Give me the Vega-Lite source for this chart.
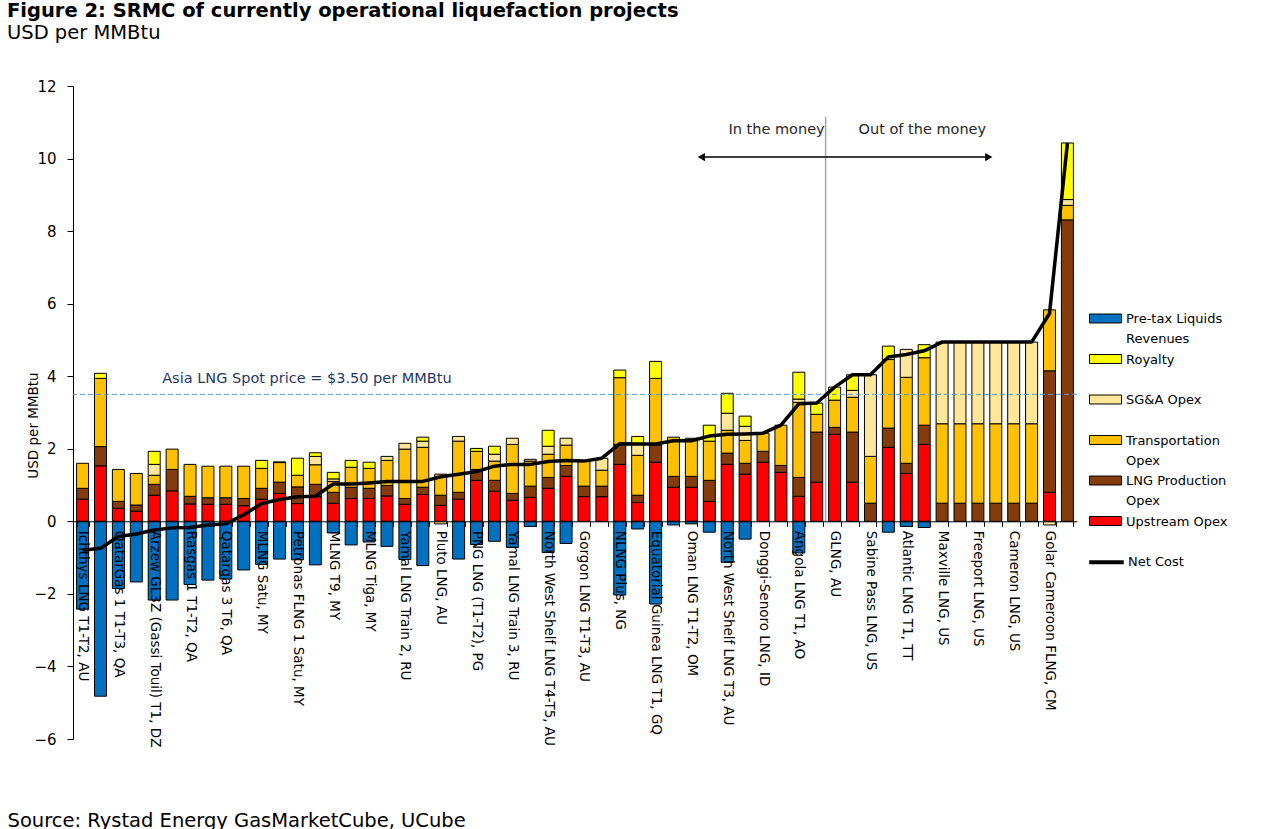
{
  "$schema": "https://vega.github.io/schema/vega-lite/v6.json",
  "width": 1004,
  "height": 653,
  "padding": {"left": 7, "top": 1, "right": 0, "bottom": 0},
  "background": "white",
  "config": {"view": {"stroke": null}, "font": "DejaVu Sans"},
  "title": {
    "text": "Figure 2: SRMC of currently operational liquefaction projects",
    "subtitle": "USD per MMBtu",
    "anchor": "start",
    "frame": "bounds",
    "font": "DejaVu Sans",
    "fontSize": 19.5,
    "fontWeight": "bold",
    "color": "black",
    "subtitleFont": "DejaVu Sans",
    "subtitleFontSize": 19.5,
    "subtitleColor": "black",
    "subtitlePadding": 2,
    "offset": 36
  },
  "datasets": {
    "ranks": [
      {"comp": "up", "rank": 1},
      {"comp": "prod", "rank": 2},
      {"comp": "trans", "rank": 3},
      {"comp": "sga", "rank": 4},
      {"comp": "roy", "rank": 5},
      {"comp": "liq", "rank": 6}
    ]
  },
  "data": {
    "values": [
      {"p": "Ichthys LNG T1-T2, AU", "up": 0.61, "prod": 0.30, "trans": 0.69, "sga": 0, "roy": 0, "liq": -2.42, "net": -0.80},
      {"p": "(unlabelled 1)", "up": 1.53, "prod": 0.53, "trans": 1.88, "sga": 0, "roy": 0.14, "liq": -4.82, "net": -0.74},
      {"p": "QatarGas 1 T1-T3, QA", "up": 0.36, "prod": 0.19, "trans": 0.88, "sga": 0, "roy": 0, "liq": -1.85, "net": -0.42},
      {"p": "(unlabelled 3)", "up": 0.28, "prod": 0.17, "trans": 0.87, "sga": 0, "roy": 0, "liq": -1.67, "net": -0.35},
      {"p": "Arzew GL3Z (Gassi Touil) T1, DZ", "up": 0.72, "prod": 0.30, "trans": 0.25, "sga": 0.30, "roy": 0.36, "liq": -2.17, "net": -0.24},
      {"p": "(unlabelled 5)", "up": 0.84, "prod": 0.59, "trans": 0.56, "sga": 0, "roy": 0, "liq": -2.17, "net": -0.18},
      {"p": "Rasgas 1 T1-T2, QA", "up": 0.48, "prod": 0.21, "trans": 0.88, "sga": 0, "roy": 0, "liq": -1.74, "net": -0.17},
      {"p": "(unlabelled 7)", "up": 0.47, "prod": 0.18, "trans": 0.87, "sga": 0, "roy": 0, "liq": -1.62, "net": -0.10},
      {"p": "Qatargas 3 T6, QA", "up": 0.47, "prod": 0.18, "trans": 0.87, "sga": 0, "roy": 0, "liq": -1.59, "net": -0.07},
      {"p": "(unlabelled 9)", "up": 0.43, "prod": 0.20, "trans": 0.89, "sga": 0, "roy": 0, "liq": -1.34, "net": 0.18},
      {"p": "MLNG Satu, MY", "up": 0.61, "prod": 0.30, "trans": 0.55, "sga": 0, "roy": 0.22, "liq": -1.19, "net": 0.49},
      {"p": "(unlabelled 11)", "up": 0.77, "prod": 0.31, "trans": 0.54, "sga": 0, "roy": 0.02, "liq": -1.04, "net": 0.60},
      {"p": "Petronas FLNG 1 Satu, MY", "up": 0.49, "prod": 0.46, "trans": 0.32, "sga": 0, "roy": 0.47, "liq": -1.06, "net": 0.68},
      {"p": "(unlabelled 13)", "up": 0.68, "prod": 0.34, "trans": 0.54, "sga": 0.23, "roy": 0.10, "liq": -1.20, "net": 0.69},
      {"p": "MLNG T9, MY", "up": 0.50, "prod": 0.30, "trans": 0.30, "sga": 0.07, "roy": 0.18, "liq": -0.32, "net": 1.03},
      {"p": "(unlabelled 15)", "up": 0.63, "prod": 0.31, "trans": 0.55, "sga": 0, "roy": 0.19, "liq": -0.65, "net": 1.03},
      {"p": "MLNG Tiga, MY", "up": 0.63, "prod": 0.28, "trans": 0.55, "sga": 0, "roy": 0.17, "liq": -0.57, "net": 1.06},
      {"p": "(unlabelled 17)", "up": 0.70, "prod": 0.29, "trans": 0.69, "sga": 0.11, "roy": 0, "liq": -0.69, "net": 1.10},
      {"p": "Yamal LNG Train 2, RU", "up": 0.47, "prod": 0.16, "trans": 1.36, "sga": 0.16, "roy": 0, "liq": -1.05, "net": 1.10},
      {"p": "(unlabelled 19)", "up": 0.74, "prod": 0.20, "trans": 1.10, "sga": 0.17, "roy": 0.11, "liq": -1.22, "net": 1.10},
      {"p": "Pluto LNG, AU", "up": 0.44, "prod": 0.28, "trans": 0.58, "sga": -0.07, "roy": 0, "liq": 0, "net": 1.23},
      {"p": "(unlabelled 21)", "up": 0.61, "prod": 0.19, "trans": 1.41, "sga": 0.13, "roy": 0, "liq": -1.04, "net": 1.30},
      {"p": "PNG LNG (T1-T2), PG", "up": 1.13, "prod": 0.30, "trans": 0.50, "sga": 0, "roy": 0.08, "liq": -0.64, "net": 1.37},
      {"p": "(unlabelled 23)", "up": 0.83, "prod": 0.30, "trans": 0.53, "sga": 0.19, "roy": 0.22, "liq": -0.55, "net": 1.52},
      {"p": "Yamal LNG Train 3, RU", "up": 0.58, "prod": 0.19, "trans": 1.35, "sga": 0.17, "roy": 0, "liq": -0.72, "net": 1.57},
      {"p": "(unlabelled 25)", "up": 0.66, "prod": 0.31, "trans": 0.69, "sga": 0.05, "roy": 0, "liq": -0.14, "net": 1.57},
      {"p": "North West Shelf LNG T4-T5, AU", "up": 0.91, "prod": 0.30, "trans": 0.64, "sga": 0.22, "roy": 0.44, "liq": -0.86, "net": 1.65},
      {"p": "(unlabelled 27)", "up": 1.24, "prod": 0.30, "trans": 0.56, "sga": 0.19, "roy": 0, "liq": -0.61, "net": 1.68},
      {"p": "Gorgon LNG T1-T3, AU", "up": 0.68, "prod": 0.29, "trans": 0.69, "sga": 0, "roy": 0, "liq": 0, "net": 1.66},
      {"p": "(unlabelled 29)", "up": 0.68, "prod": 0.29, "trans": 0.44, "sga": 0.33, "roy": 0, "liq": 0, "net": 1.74},
      {"p": "NLNG Plus, NG", "up": 1.57, "prod": 0.55, "trans": 1.84, "sga": 0, "roy": 0.21, "liq": -2.03, "net": 2.14},
      {"p": "(unlabelled 31)", "up": 0.52, "prod": 0.20, "trans": 1.10, "sga": 0.30, "roy": 0.22, "liq": -0.21, "net": 2.13},
      {"p": "Equatorial Guinea LNG T1, GQ", "up": 1.63, "prod": 0.47, "trans": 1.84, "sga": 0, "roy": 0.47, "liq": -2.28, "net": 2.13},
      {"p": "(unlabelled 33)", "up": 0.94, "prod": 0.30, "trans": 1.08, "sga": 0, "roy": 0, "liq": -0.10, "net": 2.22},
      {"p": "Oman LNG T1-T2, OM", "up": 0.94, "prod": 0.30, "trans": 1.05, "sga": 0, "roy": 0, "liq": -0.07, "net": 2.22},
      {"p": "(unlabelled 35)", "up": 0.55, "prod": 0.58, "trans": 1.08, "sga": 0, "roy": 0.44, "liq": -0.30, "net": 2.35},
      {"p": "North West Shelf LNG T3, AU", "up": 1.57, "prod": 0.31, "trans": 0.63, "sga": 0.47, "roy": 0.55, "liq": -1.13, "net": 2.40},
      {"p": "(unlabelled 37)", "up": 1.30, "prod": 0.30, "trans": 0.63, "sga": 0.39, "roy": 0.28, "liq": -0.49, "net": 2.41},
      {"p": "Donggi-Senoro LNG, ID", "up": 1.63, "prod": 0.30, "trans": 0.50, "sga": 0, "roy": 0, "liq": 0, "net": 2.43},
      {"p": "(unlabelled 39)", "up": 1.35, "prod": 0.19, "trans": 1.11, "sga": 0, "roy": 0, "liq": 0, "net": 2.65},
      {"p": "Angola LNG T1, AO", "up": 0.69, "prod": 0.52, "trans": 2.07, "sga": 0.09, "roy": 0.74, "liq": -0.87, "net": 3.24},
      {"p": "(unlabelled 41)", "up": 1.08, "prod": 1.38, "trans": 0.49, "sga": 0, "roy": 0.31, "liq": 0, "net": 3.26},
      {"p": "GLNG, AU", "up": 2.40, "prod": 0.19, "trans": 0.75, "sga": 0, "roy": 0.36, "liq": 0, "net": 3.70},
      {"p": "(unlabelled 43)", "up": 1.08, "prod": 1.38, "trans": 0.96, "sga": 0.19, "roy": 0.43, "liq": 0, "net": 4.04},
      {"p": "Sabine Pass LNG, US", "up": 0, "prod": 0.50, "trans": 1.29, "sga": 2.25, "roy": 0, "liq": 0, "net": 4.04},
      {"p": "(unlabelled 45)", "up": 2.04, "prod": 0.53, "trans": 1.89, "sga": 0, "roy": 0.37, "liq": -0.30, "net": 4.53},
      {"p": "Atlantic LNG T1, TT", "up": 1.32, "prod": 0.28, "trans": 2.37, "sga": 0.77, "roy": 0, "liq": -0.14, "net": 4.60},
      {"p": "(unlabelled 47)", "up": 2.12, "prod": 0.53, "trans": 1.86, "sga": 0, "roy": 0.36, "liq": -0.17, "net": 4.70},
      {"p": "Maxville LNG, US", "up": 0, "prod": 0.50, "trans": 2.19, "sga": 2.25, "roy": 0, "liq": 0, "net": 4.94},
      {"p": "(unlabelled 49)", "up": 0, "prod": 0.50, "trans": 2.19, "sga": 2.25, "roy": 0, "liq": 0, "net": 4.94},
      {"p": "Freeport LNG, US", "up": 0, "prod": 0.50, "trans": 2.19, "sga": 2.25, "roy": 0, "liq": 0, "net": 4.94},
      {"p": "(unlabelled 51)", "up": 0, "prod": 0.50, "trans": 2.19, "sga": 2.25, "roy": 0, "liq": 0, "net": 4.94},
      {"p": "Cameron LNG, US", "up": 0, "prod": 0.50, "trans": 2.19, "sga": 2.25, "roy": 0, "liq": 0, "net": 4.94},
      {"p": "(unlabelled 53)", "up": 0, "prod": 0.50, "trans": 2.19, "sga": 2.25, "roy": 0, "liq": 0, "net": 4.94},
      {"p": "Golar Cameroon FLNG, CM", "up": 0.80, "prod": 3.35, "trans": 1.68, "sga": -0.10, "roy": 0, "liq": 0, "net": 5.73},
      {"p": "(unlabelled 55)", "up": 0, "prod": 8.31, "trans": 0.40, "sga": 0.16, "roy": 1.56, "liq": 0, "net": 10.43}
    ]
  },
  "layer": [
    {
      "transform": [
        {"fold": ["up", "prod", "trans", "sga", "roy", "liq"], "as": ["comp", "val"]},
        {"filter": "datum.val != 0"},
        {"lookup": "comp", "from": {"data": {"name": "ranks"}, "key": "comp", "fields": ["rank"]}}
      ],
      "mark": {"type": "bar", "stroke": "black", "strokeWidth": 1},
      "encoding": {
        "x": {
          "field": "p",
          "type": "nominal",
          "sort": null,
          "scale": {"type": "band", "paddingInner": 0.33, "paddingOuter": 0.2},
          "axis": {
            "orient": "bottom",
            "offset": -217.7,
            "zindex": 1,
            "labelAngle": 90,
            "labelAlign": "left",
            "labelBaseline": "middle",
            "labelFont": "DejaVu Sans",
            "labelFontSize": 13.5,
            "labelColor": "black",
            "labelPadding": 4,
            "labelOverlap": false,
            "labelLimit": 400,
            "labelExpr": "indexof(datum.label, '(unlabelled') == 0 ? '' : datum.label",
            "tickBand": "extent",
            "tickSize": 5,
            "tickColor": "black",
            "domainColor": "black",
            "grid": false,
            "title": "Source: Rystad Energy GasMarketCube, UCube",
            "titleFont": "DejaVu Sans",
            "titleFontSize": 19.5,
            "titleFontWeight": "normal",
            "titleColor": "black",
            "titleX": -66,
            "titleY": 305,
            "titleAlign": "left",
            "titleBaseline": "alphabetic",
            "titleAnchor": null
          }
        },
        "y": {
          "field": "val",
          "type": "quantitative",
          "stack": "zero",
          "scale": {"domain": [-6, 12], "nice": false, "zero": true},
          "axis": {
            "values": [-6, -4, -2, 0, 2, 4, 6, 8, 10, 12],
            "grid": false,
            "domainColor": "black",
            "tickColor": "black",
            "tickSize": 6,
            "labelFont": "DejaVu Sans",
            "labelFontSize": 15,
            "labelColor": "black",
            "labelPadding": 11,
            "title": "USD per MMBtu",
            "titleFont": "DejaVu Sans",
            "titleFontSize": 13.5,
            "titleFontWeight": "normal",
            "titleColor": "black",
            "titleX": -40,
            "titleY": 339,
            "titleAngle": -90,
            "titleAlign": "center",
            "titleBaseline": "middle",
            "titleAnchor": null
          }
        },
        "color": {
          "field": "comp",
          "type": "nominal",
          "scale": {
            "domain": ["up", "prod", "trans", "sga", "roy", "liq"],
            "range": ["#FF0000", "#843C0C", "#FFC000", "#FFE699", "#FFFF00", "#0070C0"]
          },
          "legend": {
            "orient": "none",
            "legendX": 1024,
            "legendY": 224,
            "title": null,
            "padding": 0,
            "values": ["liq", "roy", "sga", "trans", "prod", "up"],
            "symbolType": "M-2,-0.56H2V0.56H-2Z",
            "symbolSize": 256,
            "symbolStrokeColor": "black",
            "symbolStrokeWidth": 1,
            "symbolOpacity": 1,
            "labelFont": "DejaVu Sans",
            "labelFontSize": 13,
            "labelColor": "black",
            "labelOffset": 12,
            "labelLimit": 300,
            "labelBaseline": "alphabetic",
            "rowPadding": 4.5,
            "labelExpr": "datum.label == 'liq' ? ['Pre-tax Liquids', 'Revenues'] : datum.label == 'roy' ? ['Royalty', ' '] : datum.label == 'sga' ? ['SG&A Opex', ' '] : datum.label == 'trans' ? ['Transportation', 'Opex'] : datum.label == 'prod' ? ['LNG Production', 'Opex'] : ['Upstream Opex', ' ']",
            "encode": {"labels": {"update": {"dy": {"value": 4.5}, "lineHeight": {"value": 20}}}}
          }
        },
        "order": {"field": "rank", "type": "quantitative", "sort": "ascending"}
      }
    },
    {
      "data": {"values": [{}]},
      "mark": {"type": "rule", "stroke": "#5B9BD5", "strokeWidth": 1, "strokeDash": [5, 3]},
      "encoding": {"y": {"datum": 3.5}}
    },
    {
      "data": {"values": [{}]},
      "mark": {"type": "rule", "stroke": "#A6A6A6", "strokeWidth": 1.5, "xOffset": -3},
      "encoding": {
        "x": {"datum": "GLNG, AU", "type": "nominal", "bandPosition": 0},
        "y": {"datum": 0},
        "y2": {"datum": 11.15}
      }
    },
    {
      "mark": {"type": "line", "stroke": "black", "strokeWidth": 3.5, "strokeJoin": "round"},
      "encoding": {
        "x": {"field": "p", "type": "nominal", "sort": null},
        "y": {"field": "net", "type": "quantitative"},
        "stroke": {
          "datum": "Net Cost",
          "scale": {"range": ["#000000"]},
          "legend": {
            "orient": "none",
            "legendX": 1014,
            "legendY": 456.7,
            "title": null,
            "padding": 0,
            "symbolType": "stroke",
            "symbolSize": 1190,
            "symbolStrokeWidth": 4,
            "labelFont": "DejaVu Sans",
            "labelFontSize": 13,
            "labelColor": "black",
            "labelOffset": 2
          }
        }
      }
    },
    {
      "data": {"values": [{}]},
      "mark": {"type": "text", "align": "left", "baseline": "middle", "dx": 2, "font": "DejaVu Sans", "fontSize": 14.5, "color": "#1F3864"},
      "encoding": {
        "x": {"datum": "Arzew GL3Z (Gassi Touil) T1, DZ", "type": "nominal", "bandPosition": 1},
        "y": {"datum": 3.92},
        "text": {"value": "Asia LNG Spot price = $3.50 per MMBtu"}
      }
    },
    {
      "data": {"values": [{}]},
      "mark": {"type": "text", "align": "right", "baseline": "middle", "dx": -4, "font": "DejaVu Sans", "fontSize": 14.5, "color": "#262626"},
      "encoding": {
        "x": {"datum": "GLNG, AU", "type": "nominal", "bandPosition": 0},
        "y": {"datum": 10.79},
        "text": {"value": "In the money"}
      }
    },
    {
      "data": {"values": [{}]},
      "mark": {"type": "text", "align": "left", "baseline": "middle", "font": "DejaVu Sans", "fontSize": 14.5, "color": "#262626"},
      "encoding": {
        "x": {"datum": "(unlabelled 43)", "type": "nominal", "bandPosition": 1},
        "y": {"datum": 10.79},
        "text": {"value": "Out of the money"}
      }
    },
    {
      "data": {"values": [{}]},
      "mark": {"type": "rule", "stroke": "black", "strokeWidth": 1.5, "xOffset": 8, "x2Offset": -6},
      "encoding": {
        "x": {"datum": "Oman LNG T1-T2, OM", "type": "nominal"},
        "x2": {"datum": "(unlabelled 51)"},
        "y": {"datum": 10.04}
      }
    },
    {
      "data": {"values": [{}]},
      "mark": {"type": "point", "shape": "triangle-left", "filled": true, "color": "black", "opacity": 1, "size": 70, "xOffset": 10},
      "encoding": {
        "x": {"datum": "Oman LNG T1-T2, OM", "type": "nominal"},
        "y": {"datum": 10.04}
      }
    },
    {
      "data": {"values": [{}]},
      "mark": {"type": "point", "shape": "triangle-right", "filled": true, "color": "black", "opacity": 1, "size": 70, "xOffset": -7},
      "encoding": {
        "x": {"datum": "(unlabelled 51)", "type": "nominal"},
        "y": {"datum": 10.04}
      }
    }
  ],
  "resolve": {"legend": {"color": "independent", "stroke": "independent"}}
}
